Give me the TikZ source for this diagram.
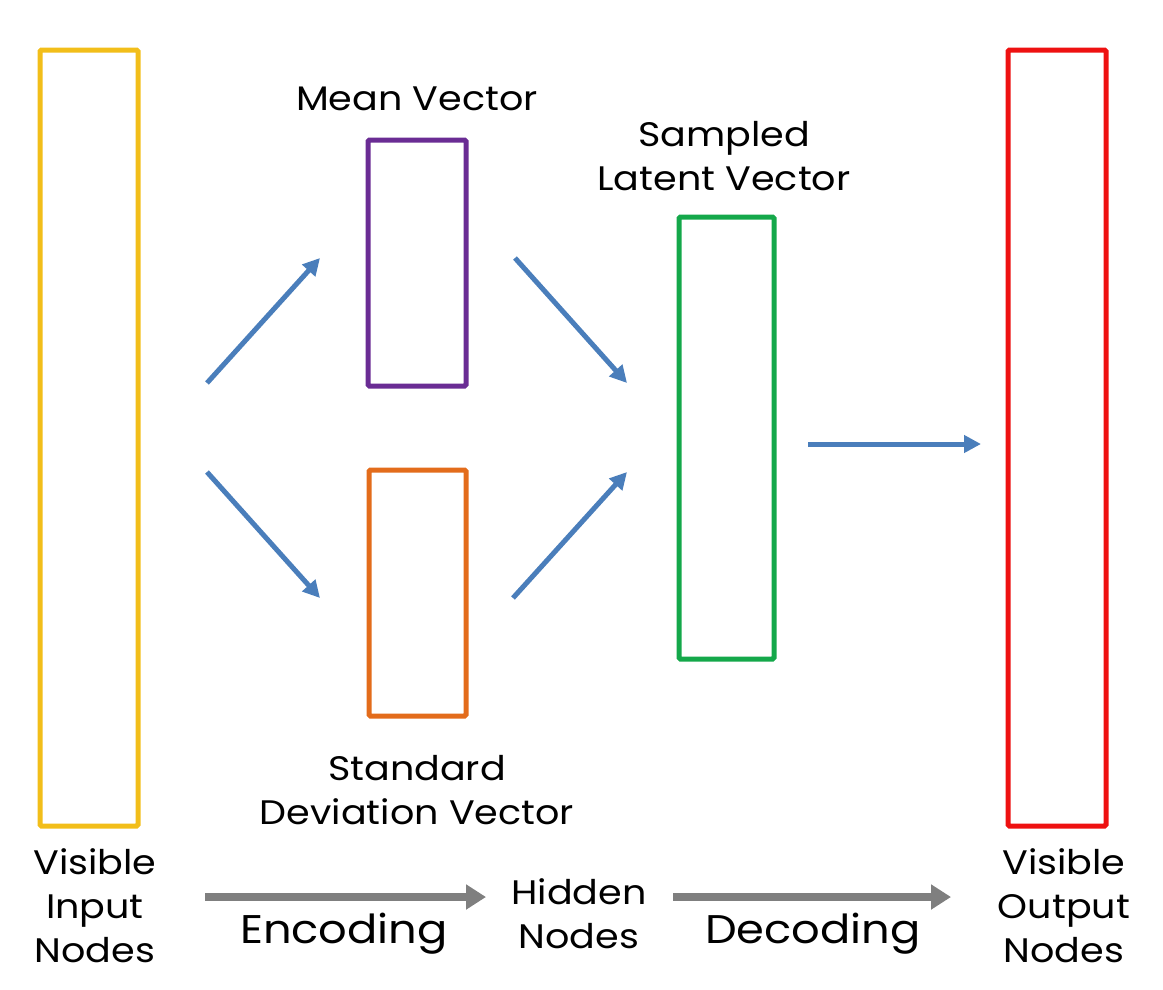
\documentclass[tikz,border=0pt]{standalone}
\usepackage{fontspec}
\setmainfont{Poppins}[FakeStretch=1.12]
\usetikzlibrary{arrows.meta}
\definecolor{cyel}{HTML}{F2BE1A}
\definecolor{cpur}{HTML}{6A2C94}
\definecolor{corg}{HTML}{E36C1B}
\definecolor{cgrn}{HTML}{14A84A}
\definecolor{cred}{HTML}{EE1111}
\definecolor{cblu}{HTML}{4A7EBB}
\definecolor{cgry}{HTML}{7F7F7F}
\tikzset{
  layer/.style={draw=#1, line width=5pt, rounded corners=1.5pt, inner sep=0pt, fill=white},
  lbl/.style={align=center, font=\fontsize{34}{44}\selectfont, inner sep=0pt},
  biglbl/.style={font=\fontsize{40}{48}\selectfont, inner sep=0pt},
  bluearrow/.style={draw=cblu, line width=5pt, -{Triangle[length=17pt,width=17pt]}},
  grayarrow/.style={draw=cgry, line width=8pt, -{Triangle[length=20pt,width=24pt]}},
}
\begin{document}
\begin{tikzpicture}[x=1pt,y=-1pt]
\useasboundingbox (0,0) rectangle (1163,989);
% boxes
\node[layer=cyel, minimum width=98pt, minimum height=776pt] (inp) at (89,438) {};
\node[layer=cpur, minimum width=98pt, minimum height=246pt] (mean) at (417,263) {};
\node[layer=corg, minimum width=97pt, minimum height=246pt] (std) at (417.5,593) {};
\node[layer=cgrn, minimum width=95pt, minimum height=442pt] (lat) at (726.5,438) {};
\node[layer=cred, minimum width=98pt, minimum height=776pt] (out) at (1057,438) {};
% labels
\node[lbl] (lmean) at (417,99) {Mean Vector};
\node[lbl] (llat) at (724,156) {Sampled\\Latent Vector};
\node[lbl] (lstd) at (417,790) {Standard\\Deviation Vector};
\node[lbl] (linp) at (95,906) {Visible\\Input\\Nodes};
\node[lbl] (lhid) at (579,914) {Hidden\\Nodes};
\node[lbl] (lout) at (1064,906) {Visible\\Output\\Nodes};
\node[biglbl] (lenc) at (344,934) {Encoding};
\node[biglbl] (ldec) at (813,934) {Decoding};
% arrow end coordinates
\coordinate (a1s) at (207,383); \coordinate (a1e) at (320,258);
\coordinate (a2s) at (207,472); \coordinate (a2e) at (320,598);
\coordinate (a3s) at (515,258); \coordinate (a3e) at (627,383);
\coordinate (a4s) at (513,598); \coordinate (a4e) at (627,472);
\coordinate (a5s) at (808,444); \coordinate (a5e) at (981,444);
\coordinate (g1s) at (205,897); \coordinate (g1e) at (486,897);
\coordinate (g2s) at (673,897); \coordinate (g2e) at (951,897);
\draw[bluearrow] (a1s) -- (a1e);
\draw[bluearrow] (a2s) -- (a2e);
\draw[bluearrow] (a3s) -- (a3e);
\draw[bluearrow] (a4s) -- (a4e);
\draw[bluearrow] (a5s) -- (a5e);
\draw[grayarrow] (g1s) -- (g1e);
\draw[grayarrow] (g2s) -- (g2e);
\end{tikzpicture}
\end{document}
